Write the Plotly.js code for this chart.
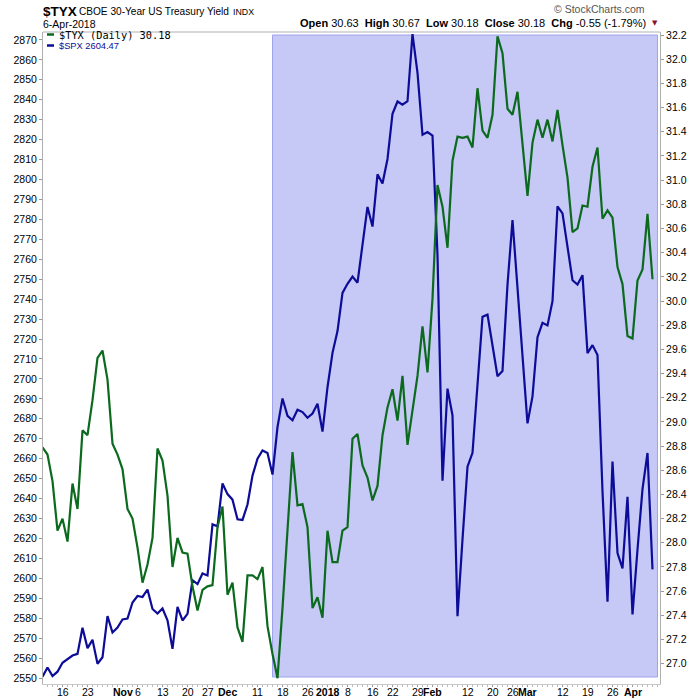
<!DOCTYPE html>
<html><head><meta charset="utf-8">
<script src="https://cdn.plot.ly/plotly-3.0.1.min.js"></script>
<style>html,body{margin:0;padding:0;background:#fff;} #chart{width:700px;height:700px;}</style>
</head><body><div id="chart"></div>
<script>
// ---------- DATA ----------
const dates = [
'2017-10-10','2017-10-11','2017-10-12','2017-10-13','2017-10-16','2017-10-17','2017-10-18','2017-10-19','2017-10-20','2017-10-23',
'2017-10-24','2017-10-25','2017-10-26','2017-10-27','2017-10-30','2017-10-31','2017-11-01','2017-11-02','2017-11-03','2017-11-06',
'2017-11-07','2017-11-08','2017-11-09','2017-11-10','2017-11-13','2017-11-14','2017-11-15','2017-11-16','2017-11-17','2017-11-20',
'2017-11-21','2017-11-22','2017-11-24','2017-11-27','2017-11-28','2017-11-29','2017-11-30','2017-12-01','2017-12-04','2017-12-05',
'2017-12-06','2017-12-07','2017-12-08','2017-12-11','2017-12-12','2017-12-13','2017-12-14','2017-12-15','2017-12-18','2017-12-19',
'2017-12-20','2017-12-21','2017-12-22','2017-12-26','2017-12-27','2017-12-28','2017-12-29','2018-01-02','2018-01-03','2018-01-04',
'2018-01-05','2018-01-08','2018-01-09','2018-01-10','2018-01-11','2018-01-12','2018-01-16','2018-01-17','2018-01-18','2018-01-19',
'2018-01-22','2018-01-23','2018-01-24','2018-01-25','2018-01-26','2018-01-29','2018-01-30','2018-01-31','2018-02-01','2018-02-02',
'2018-02-05','2018-02-06','2018-02-07','2018-02-08','2018-02-09','2018-02-12','2018-02-13','2018-02-14','2018-02-15','2018-02-16',
'2018-02-20','2018-02-21','2018-02-22','2018-02-23','2018-02-26','2018-02-27','2018-02-28','2018-03-01','2018-03-02','2018-03-05',
'2018-03-06','2018-03-07','2018-03-08','2018-03-09','2018-03-12','2018-03-13','2018-03-14','2018-03-15','2018-03-16','2018-03-19',
'2018-03-20','2018-03-21','2018-03-22','2018-03-23','2018-03-26','2018-03-27','2018-03-28','2018-03-29','2018-04-02','2018-04-03',
'2018-04-04','2018-04-05','2018-04-06'];

const spx = [
2550.64,2555.24,2550.93,2553.17,2557.64,2559.36,2561.26,2562.10,2575.21,2564.98,
2569.13,2557.15,2560.40,2581.07,2572.83,2575.26,2579.36,2579.85,2587.84,2591.13,
2590.64,2594.38,2584.62,2582.30,2584.84,2578.87,2564.62,2585.64,2578.85,2582.14,
2599.03,2597.08,2602.42,2601.42,2627.04,2626.07,2647.58,2642.22,2639.44,2629.57,
2629.27,2636.98,2651.50,2659.99,2664.11,2662.85,2652.01,2675.81,2690.16,2681.47,
2679.25,2684.57,2683.34,2680.50,2682.62,2687.54,2673.61,2695.81,2713.06,2723.99,
2743.15,2747.71,2751.29,2748.23,2767.56,2786.24,2776.42,2802.56,2798.03,2810.30,
2832.97,2839.13,2837.54,2839.25,2872.87,2853.53,2822.43,2823.81,2821.98,2762.13,
2648.94,2695.14,2681.66,2581.00,2619.55,2656.00,2662.94,2698.63,2731.20,2732.22,
2716.26,2701.33,2703.96,2747.30,2779.60,2744.28,2713.83,2677.67,2691.25,2720.94,
2728.12,2726.80,2738.97,2786.57,2783.02,2765.31,2749.48,2747.33,2752.01,2712.92,
2716.94,2711.93,2643.69,2588.26,2658.55,2612.62,2605.00,2640.87,2581.88,2614.45,
2644.69,2662.84,2604.47];

const tyx = [
28.79,28.73,28.51,28.10,28.20,28.01,28.49,28.28,28.93,28.89,
29.18,29.53,29.59,29.35,28.82,28.73,28.61,28.28,28.20,27.96,
27.67,27.82,28.04,28.78,28.68,28.39,27.80,28.04,27.92,27.91,
27.64,27.44,27.61,27.64,27.65,28.13,28.30,27.57,27.67,27.30,
27.18,27.73,27.73,27.70,27.80,27.31,27.08,26.88,27.46,28.13,
28.75,28.31,28.32,28.13,27.46,27.55,27.38,28.10,27.84,27.84,
28.10,28.13,28.86,28.90,28.64,28.54,28.35,28.47,28.89,29.12,
29.27,29.01,29.38,28.81,29.08,29.38,29.79,29.41,30.02,30.96,
30.78,30.44,31.16,31.36,31.35,31.36,31.27,31.76,31.41,31.35,
31.54,32.19,32.05,31.59,31.54,31.73,31.30,30.87,31.31,31.50,
31.35,31.50,31.32,31.58,31.29,31.02,30.57,30.60,30.79,30.78,
31.11,31.27,30.68,30.75,30.69,30.28,30.14,29.71,29.69,30.17,
30.26,30.72,30.18];

const tickDates = ['2017-10-16','2017-10-23','2017-11-01','2017-11-06','2017-11-13','2017-11-20','2017-11-27',
'2017-12-01','2017-12-11','2017-12-18','2017-12-26','2018-01-02','2018-01-08','2018-01-16','2018-01-22','2018-01-29',
'2018-02-01','2018-02-12','2018-02-20','2018-02-26','2018-03-01','2018-03-12','2018-03-19','2018-03-26','2018-04-02'];
const tickLabels = ['16','23','<b>Nov</b>','6','13','20','27','<b>Dec</b>','11','18','26','<b>2018</b>','8','16','22','29',
'<b>Feb</b>','12','20','26','<b>Mar</b>','12','19','26','<b>Apr</b>'];
const shadeFrom = '2017-12-14';

// ---------- LAYOUT HELPERS ----------
const ML = 43, MR = 40, MT = 32, MB = 16, W = 700, H = 700;
const PW = W - ML - MR, PH = H - MT - MB;
const px = x => (x - ML) / PW;
const py = y => (H - MB - y) / PH;
const FONT = 'Liberation Sans, Arial, sans-serif';

const idx = dates.map((d, i) => i);
const tickVals = tickDates.map(d => dates.indexOf(d));

const GREEN = '#0b6a1e', BLUE = '#0c0c98';

const traces = [
  {x: idx, y: spx, type: 'scatter', mode: 'lines', yaxis: 'y', line: {color: BLUE, width: 2.2}, hoverinfo: 'skip'},
  {x: idx, y: tyx, type: 'scatter', mode: 'lines', yaxis: 'y2', line: {color: GREEN, width: 2.2}, hoverinfo: 'skip'}
];

function ann(x, y, text, size, opts) {
  return Object.assign({xref: 'paper', yref: 'paper', x: px(x), y: py(y), text: text, showarrow: false,
    xanchor: 'left', yanchor: 'middle', font: {family: FONT, size: size, color: '#000'}}, opts || {});
}

// x-axis tick labels drawn as annotations at the axis' own tick positions (tight under the axis)
const xLabelAnns = tickVals.map((v, k) => ({
  xref: 'x', yref: 'paper', x: v, y: py(692), text: tickLabels[k], showarrow: false,
  xanchor: 'center', yanchor: 'middle', font: {family: FONT, size: 10.5, color: '#000'}
}));

const layout = {
  width: W, height: H,
  margin: {l: ML, r: MR, t: MT, b: MB, pad: 0},
  paper_bgcolor: '#fff', plot_bgcolor: '#fff',
  showlegend: false,
  xaxis: {
    range: [0.1, 123.5], tickmode: 'array', tickvals: tickVals, ticktext: tickLabels, showticklabels: false,
    ticks: 'outside', ticklen: 2, tickcolor: '#999', showline: true, linecolor: '#c8c8c8', linewidth: 1,
    showgrid: false, zeroline: false,
    minor: {tickmode: 'linear', tick0: 0, dtick: 1, ticks: 'outside', ticklen: 2, tickcolor: '#bbb', showgrid: false}
  },
  yaxis: {
    range: [2546.99, 2873.97], tickmode: 'linear', tick0: 2550, dtick: 10,
    ticks: 'outside', ticklen: 3, tickcolor: '#999', showline: true, linecolor: '#b0b0b0',
    showgrid: false, zeroline: false, tickfont: {family: FONT, size: 10.5, color: '#000'}
  },
  yaxis2: {
    overlaying: 'y', side: 'right', range: [26.832, 32.225], tickmode: 'linear', tick0: 27, dtick: 0.2,
    tickformat: '.1f', ticks: 'outside', ticklen: 3, tickcolor: '#999', showline: true, linecolor: '#b0b0b0',
    showgrid: false, zeroline: false, tickfont: {family: FONT, size: 10.5, color: '#000'}
  },
  shapes: [
    {type: 'rect', layer: 'below', xref: 'x', yref: 'paper', x0: dates.indexOf(shadeFrom), x1: dates.length,
     y0: py(677), y1: py(35), fillcolor: '#c6c8f5', line: {color: '#9fa2ec', width: 1}},
    {type: 'line', xref: 'paper', yref: 'paper', x0: 0, x1: 1, y0: 1, y1: 1, line: {color: '#b0b0b0', width: 1}},
    {type: 'line', xref: 'paper', yref: 'paper', x0: px(47), x1: px(54), y0: py(34.5), y1: py(34.5), line: {color: GREEN, width: 2.5}},
    {type: 'line', xref: 'paper', yref: 'paper', x0: px(47), x1: px(54), y0: py(45.5), y1: py(45.5), line: {color: BLUE, width: 2.5}}
  ],
  annotations: [
    ann(41, 11.5, '<b>$TYX</b>', 13.5),
    ann(77, 12, 'CBOE 30-Year US Treasury Yield', 10.1),
    ann(231, 12.5, 'INDX', 8.8),
    ann(41, 24, '6-Apr-2018', 10.5),
    ann(647, 9, '\u00A9 StockCharts.com', 10.5, {xanchor: 'right', font: {family: FONT, size: 10.5, color: '#555'}}),
    ann(648, 23, '<b>Open</b> 30.63  <b>High</b> 30.67  <b>Low</b> 30.18  <b>Close</b> 30.18  <b>Chg</b> -0.55 (-1.79%)', 11, {xanchor: 'right'}),
    ann(650, 23, '\u25BC', 7, {font: {family: 'DejaVu Sans, sans-serif', size: 7, color: '#8b1030'}}),
    ann(57, 35, '$TYX (Daily) 30.18', 10.3, {font: {family: 'DejaVu Sans Mono, monospace', size: 10.3, color: '#000'}}),
    ann(57, 46, '$SPX 2604.47', 9.3, {font: {family: FONT, size: 9.3, color: BLUE}})
  ].concat(xLabelAnns)
};

Plotly.newPlot('chart', traces, layout, {displayModeBar: false, staticPlot: true});
</script>
</body></html>
